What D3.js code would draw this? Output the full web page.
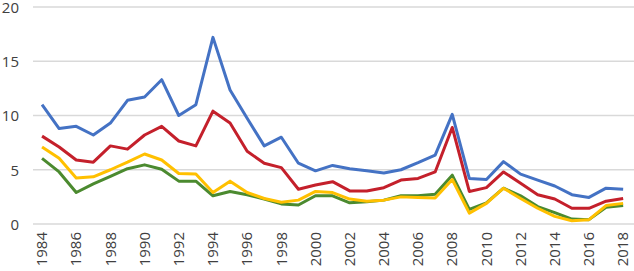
<!DOCTYPE html>
<html>
<head>
<meta charset="utf-8">
<script src="https://cdn.jsdelivr.net/npm/d3@7"></script>
<style>
  body { margin: 0; background: #fff; }
  svg { display: block; }
  .tick text { font-family: "Open Sans", "Liberation Sans", sans-serif; fill: #404040; }
</style>
</head>
<body>
<svg id="chart" width="634" height="271"></svg>
<script>
var years = d3.range(1984, 2019);
var yTicks = [0, 5, 10, 15, 20];

var blue = [11.0, 8.8, 9.0, 8.2, 9.3, 11.4, 11.7, 13.3, 10.0, 11.0, 17.2,
  12.35, 9.75, 7.2, 8.0, 5.6, 4.9, 5.4, 5.1, 4.9, 4.7, 5.0, 5.65,
  6.35, 10.1, 4.2, 4.1, 5.75, 4.6, 4.05, 3.5, 2.7, 2.45, 3.3, 3.2];
var red = [8.1, 7.1, 5.9, 5.7, 7.2, 6.9, 8.2, 9.0, 7.65, 7.2, 10.4,
  9.3, 6.7, 5.6, 5.2, 3.2, 3.6, 3.9, 3.05, 3.05, 3.35, 4.05, 4.2,
  4.8, 8.9, 3.0, 3.35, 4.8, 3.75, 2.7, 2.3, 1.45, 1.45, 2.1, 2.35];
var green = [6.05, 4.8, 2.9, 3.7, 4.4, 5.1, 5.45, 5.05, 3.95, 3.95, 2.6,
  3.0, 2.7, 2.3, 1.85, 1.75, 2.6, 2.6, 1.95, 2.05, 2.2, 2.6, 2.6,
  2.75, 4.5, 1.35, 1.95, 3.3, 2.6, 1.6, 1.05, 0.45, 0.4, 1.55, 1.7];
var yellow = [7.1, 6.05, 4.25, 4.35, 5.0, 5.7, 6.45, 5.9, 4.65, 4.6, 2.9,
  3.95, 2.9, 2.35, 2.0, 2.2, 3.0, 2.9, 2.3, 2.1, 2.2, 2.5, 2.45,
  2.4, 4.1, 1.0, 1.9, 3.3, 2.35, 1.45, 0.7, 0.3, 0.4, 1.7, 1.9];

var series = [
  { values: blue, color: '#4472c4' },
  { values: red, color: '#c4202b' },
  { values: green, color: '#4b8a2f' },
  { values: yellow, color: '#ffc000' }
];

var svg = d3.select('#chart');

var x = d3.scaleBand().domain(years).range([33.5, 631.7]);
var y = d3.scaleLinear().domain([0, 20]).range([224, 7]);

// gridlines
svg.append('g')
  .selectAll('line')
  .data(yTicks)
  .join('line')
  .attr('x1', 33)
  .attr('x2', 634)
  .attr('y1', d => y(d))
  .attr('y2', d => y(d))
  .attr('stroke', '#d9d9d9')
  .attr('stroke-width', 1.5);

// y axis labels
var yAxis = svg.append('g')
  .attr('transform', 'translate(19, 0)')
  .call(d3.axisLeft(y).tickValues(yTicks).tickSize(0).tickPadding(0));
yAxis.select('.domain').remove();
yAxis.selectAll('text').style('font-size', '15px').attr('dy', '0.35em');

// x axis labels
var xAxis = svg.append('g')
  .attr('transform', 'translate(0, 232)')
  .call(d3.axisBottom(x).tickValues(years.filter(d => d % 2 === 0)).tickSize(0).tickPadding(0));
xAxis.select('.domain').remove();
xAxis.selectAll('text')
  .style('font-size', '15px')
  .attr('text-anchor', 'end')
  .attr('transform', 'rotate(-90)')
  .attr('x', 0)
  .attr('y', 0)
  .attr('dx', 0)
  .attr('dy', '0.35em');

var line = d3.line()
  .x((d, i) => x(years[i]) + x.bandwidth() / 2)
  .y(d => y(d));

svg.append('g')
  .selectAll('path')
  .data(series)
  .join('path')
  .attr('d', d => line(d.values))
  .attr('fill', 'none')
  .attr('stroke', d => d.color)
  .attr('stroke-width', 3)
  .attr('stroke-linejoin', 'round');
</script>
</body>
</html>
